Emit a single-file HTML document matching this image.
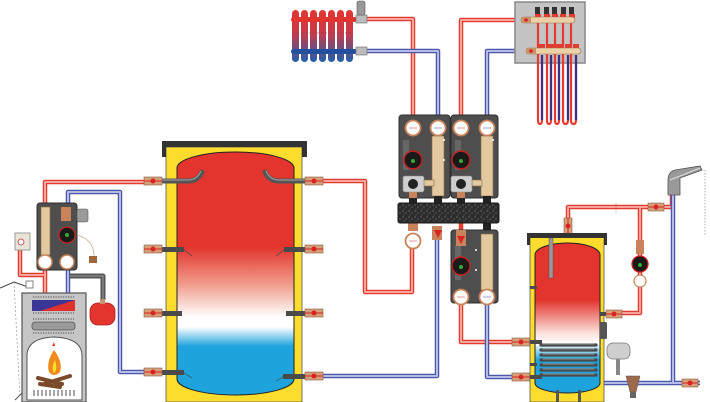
<!DOCTYPE html>
<html><head><meta charset="utf-8"><style>
html,body{margin:0;padding:0;background:#fff;}
svg{display:block;}
</style></head><body>
<svg width="710" height="402" viewBox="0 0 710 402" xmlns="http://www.w3.org/2000/svg">
<defs>
<linearGradient id="buf" x1="0" y1="152" x2="0" y2="395" gradientUnits="userSpaceOnUse">
<stop offset="0" stop-color="#e3342d"/><stop offset="0.39" stop-color="#e3342d"/>
<stop offset="0.55" stop-color="#f0a090"/><stop offset="0.68" stop-color="#fff"/>
<stop offset="0.72" stop-color="#fff"/><stop offset="0.8" stop-color="#1ea3dc"/>
<stop offset="1" stop-color="#1ea3dc"/></linearGradient>
<linearGradient id="dhw" x1="0" y1="243" x2="0" y2="393" gradientUnits="userSpaceOnUse">
<stop offset="0" stop-color="#e3342d"/><stop offset="0.38" stop-color="#e3342d"/>
<stop offset="0.6" stop-color="#fbe0da"/><stop offset="0.67" stop-color="#fff"/>
<stop offset="0.78" stop-color="#1ea3dc"/><stop offset="1" stop-color="#1ea3dc"/></linearGradient>
<linearGradient id="rad" x1="0" y1="10" x2="0" y2="62" gradientUnits="userSpaceOnUse">
<stop offset="0" stop-color="#e2352f"/><stop offset="0.45" stop-color="#c83a4a"/><stop offset="1" stop-color="#1f5fae"/></linearGradient>
<pattern id="spk" width="6" height="6" patternUnits="userSpaceOnUse">
<rect width="6" height="6" fill="#2c2c2c"/><circle cx="1" cy="1" r="0.6" fill="#888"/><circle cx="4" cy="3" r="0.5" fill="#aaa"/><circle cx="2" cy="5" r="0.5" fill="#777"/></pattern>
</defs>

<!-- ============ PIPES ============ -->
<g fill="none" stroke-linejoin="round" stroke-linecap="butt">
<g stroke="#e53a2f" stroke-width="4.5">
<path d="M45,293 V182 H148"/>
<path d="M20,250 V275 H45"/>
<path d="M323,181 H365 V292 H412 V248"/>
<path d="M413,115 V19 H367"/>
<path d="M461,115 V20 H521"/>
<path d="M461,223 V232"/>
<path d="M461,303 V342 H530"/>
<path d="M568,235 V207 H672 V195"/>
<path d="M640,207 V313 H607"/>
</g>
<g stroke="#f7a59a" stroke-width="2">
<path d="M45,293 V182 H148"/>
<path d="M20,250 V275 H45"/>
<path d="M323,181 H365 V292 H412 V248"/>
<path d="M413,115 V19 H367"/>
<path d="M461,115 V20 H521"/>
<path d="M461,303 V342 H530"/>
<path d="M568,235 V207 H672 V195"/>
<path d="M640,207 V313 H607"/>
</g>
<g stroke="#4d57a8" stroke-width="4.5">
<path d="M68,293 V192 H120 V372 H148"/>
<path d="M323,376 H437 V240"/>
<path d="M438,115 V51 H367"/>
<path d="M487,115 V51 H526"/>
<path d="M487,303 V377 H530"/>
<path d="M600,383 H700"/>
<path d="M673,195 V383"/>
</g>
<g stroke="#b4bbe6" stroke-width="2">
<path d="M68,293 V192 H120 V372 H148"/>
<path d="M323,376 H437 V240"/>
<path d="M438,115 V51 H367"/>
<path d="M487,115 V51 H526"/>
<path d="M487,303 V377 H530"/>
<path d="M600,383 H700"/>
<path d="M673,195 V383"/>
</g>
<path d="M70,276 H103 V300" stroke="#555" stroke-width="5"/>
<path d="M70,276 H103 V300" stroke="#888" stroke-width="1.5"/>
</g>

<!-- chimney line -->
<path d="M0,288 L14,282 L28,287" fill="none" stroke="#444" stroke-width="1"/>
<path d="M14,282 L20,398" fill="none" stroke="#999" stroke-width="0.7" stroke-dasharray="2,2"/>
<rect x="26" y="281" width="7" height="7" fill="#fff" stroke="#666" stroke-width="0.8"/>
<path d="M22,393 L15,400" stroke="#555" stroke-width="1"/>

<!-- ============ BOILER ============ -->
<rect x="22" y="293" width="64" height="109" fill="#c6c6c6" stroke="#555" stroke-width="1.2"/>
<g stroke="#444" stroke-width="1">
<path d="M33,297 H74 M33,313 H74 M33,319 H74 M33,333 H74" stroke-dasharray="1.2,1.3"/>
</g>
<polygon points="32,300 75,300 75,311 32,311" fill="#3a3597"/>
<polygon points="40,311 75,300 75,311" fill="#e0312c"/>
<rect x="32" y="322" width="43" height="8" rx="3" fill="#9a9a9a" stroke="#555" stroke-width="0.8"/>
<path d="M27,400 V356 Q27,338 54,337 Q82,338 82,356 V400 Z" fill="#fff" stroke="#555" stroke-width="1"/>
<path d="M54,350 Q46,362 49,372 Q54,378 60,372 Q63,362 54,350 Z" fill="#f08a1c"/>
<path d="M55,360 Q51,368 54,373 Q58,370 55,360 Z" fill="#fde02e"/>
<path d="M52,346 l2,-4 l1,4 z" fill="#e3342d"/>
<g stroke="#7a4a2a" stroke-width="4" stroke-linecap="round">
<path d="M38,378 L62,384"/><path d="M44,384 L70,376"/><path d="M40,384 L60,387"/>
</g>
<g stroke="#888" stroke-width="1.5"><path d="M34,390 V396 M38,390 V396 M42,390 V396 M46,390 V396 M50,390 V396 M54,390 V396 M58,390 V396 M62,390 V396 M66,390 V396 M70,390 V396 M74,390 V396"/></g>

<!-- expansion vessel -->
<rect x="90" y="303" width="25" height="22" rx="8" fill="#e3342d" stroke="#a52520" stroke-width="0.8"/>
<rect x="100" y="299" width="5" height="5" fill="#c8926a"/>

<!-- gauge -->
<rect x="15" y="233" width="15" height="17" fill="#e8e4d8" stroke="#888" stroke-width="0.8"/>
<circle cx="21" cy="242" r="3" fill="#fff" stroke="#c33" stroke-width="0.8"/>

<!-- left mixing group -->
<rect x="37" y="203" width="40" height="67" rx="3" fill="#4e4e4e" stroke="#2e2e2e"/>
<rect x="41" y="207" width="9" height="48" fill="#e2c9a0" stroke="#8a6a40" stroke-width="0.6"/>
<rect x="61" y="207" width="10" height="14" fill="#c8835a"/>
<rect x="77" y="209" width="11" height="13" rx="2" fill="#9a9a9a" stroke="#555" stroke-width="0.6"/>
<circle cx="67" cy="235" r="8" fill="#1a1a1a" stroke="#c22" stroke-width="1.2"/>
<circle cx="67" cy="235" r="2" fill="#3a3"/>
<circle cx="45" cy="262" r="7" fill="#fff" stroke="#c8835a" stroke-width="1.4"/>
<circle cx="67" cy="262" r="7" fill="#fff" stroke="#c8835a" stroke-width="1.4"/>
<path d="M77,235 Q95,240 94,258" fill="none" stroke="#c8a888" stroke-width="0.7"/>
<rect x="89" y="256" width="8" height="7" fill="#a0683a"/>

<!-- ============ BUFFER TANK ============ -->
<rect x="185" y="383" width="102" height="19" fill="#b4b4b4" stroke="#444" stroke-width="1"/>
<rect x="166" y="147" width="136" height="255" fill="#fcdc2c" stroke="#555" stroke-width="0.8"/>
<path d="M162,141 H307 V157 H302 V147 H166 V157 H162 Z" fill="#333"/>
<path d="M177,168 A58.5,16 0 0 1 294,168 V379 A58.5,16 0 0 1 177,379 Z" fill="url(#buf)" stroke="#222" stroke-width="1"/>
<g fill="#4a4a4a">
<rect x="162" y="247" width="22" height="5"/><rect x="162" y="311" width="20" height="5"/><rect x="162" y="370" width="22" height="5"/>
<rect x="284" y="247" width="21" height="5"/><rect x="286" y="311" width="19" height="5"/><rect x="283" y="374" width="22" height="5"/>
</g>
<g fill="none" stroke="#555" stroke-width="5" stroke-linecap="round">
<path d="M162,181 H188 Q198,181 202,172"/><path d="M305,181 H279 Q269,181 265,172"/>
</g>
<g fill="none" stroke="#999" stroke-width="1.2">
<path d="M162,180 H188 Q197,180 201,171"/><path d="M305,180 H279 Q270,180 266,171"/>
</g>
<g stroke="#444" stroke-width="0.7"><path d="M184,250 L192,256 M284,250 L276,256 M184,373 L192,378 M283,377 L276,381"/></g>

<!-- valves -->
<g>
<g stroke="#8c5e3e" stroke-width="0.6" fill="#d3a07a">
<rect x="144" y="177" width="18" height="8"/><rect x="144" y="245" width="18" height="8"/><rect x="144" y="309" width="18" height="8"/><rect x="144" y="368" width="18" height="8"/>
<rect x="305" y="177" width="18" height="8"/><rect x="305" y="245" width="18" height="8"/><rect x="305" y="309" width="18" height="8"/><rect x="305" y="372" width="18" height="8"/>
<rect x="512" y="338" width="18" height="8"/><rect x="512" y="373" width="18" height="8"/><rect x="606" y="310" width="16" height="8"/>
<rect x="564" y="218" width="8" height="16"/><rect x="648" y="203" width="16" height="8"/><rect x="682" y="379" width="16" height="8"/>
</g>
<g stroke="#d22" stroke-width="1">
<path d="M144,181 H162 M144,249 H162 M144,313 H162 M144,372 H162 M305,181 H323 M305,249 H323 M305,313 H323 M305,376 H323 M512,342 H530 M512,377 H530 M606,314 H622 M568,218 V234 M648,207 H664 M682,383 H698"/>
</g>
<g fill="#d22">
<circle cx="153" cy="181" r="2.5"/><circle cx="153" cy="249" r="2.5"/><circle cx="153" cy="313" r="2.5"/><circle cx="153" cy="372" r="2.5"/>
<circle cx="314" cy="181" r="2.5"/><circle cx="314" cy="249" r="2.5"/><circle cx="314" cy="313" r="2.5"/><circle cx="314" cy="376" r="2.5"/>
<circle cx="521" cy="342" r="2.5"/><circle cx="521" cy="377" r="2.5"/><circle cx="614" cy="314" r="2.5"/><circle cx="568" cy="226" r="2.5"/><circle cx="656" cy="207" r="2.5"/><circle cx="690" cy="383" r="2.5"/>
</g>
</g>

<!-- ============ RADIATOR ============ -->
<g fill="url(#rad)">
<rect x="292" y="10" width="7" height="52" rx="3.5"/><rect x="301" y="10" width="7" height="52" rx="3.5"/><rect x="310" y="10" width="7" height="52" rx="3.5"/><rect x="319" y="10" width="7" height="52" rx="3.5"/><rect x="328" y="10" width="7" height="52" rx="3.5"/><rect x="337" y="10" width="7" height="52" rx="3.5"/><rect x="346" y="10" width="7" height="52" rx="3.5"/>
</g>
<rect x="291" y="17" width="66" height="5" rx="2.5" fill="#e2352f"/>
<rect x="291" y="49" width="66" height="5" rx="2.5" fill="#23509e"/>
<path d="M293,33 H352" stroke="#6a3a5a" stroke-width="0.6" stroke-dasharray="2,2"/>
<rect x="356" y="15" width="11" height="8" fill="#bbb" stroke="#666" stroke-width="0.6"/>
<rect x="357" y="1" width="8" height="14" rx="2" fill="#999" stroke="#555" stroke-width="0.6"/>
<rect x="356" y="47" width="11" height="8" fill="#bbb" stroke="#666" stroke-width="0.6"/>

<!-- ============ MANIFOLD ============ -->
<rect x="515" y="2" width="70" height="61" fill="#c4c4c4" stroke="#888" stroke-width="1.5"/>
<g fill="#333"><rect x="535" y="7" width="5" height="7"/><rect x="544" y="7" width="5" height="7"/><rect x="552" y="7" width="5" height="7"/><rect x="561" y="7" width="5" height="7"/><rect x="569" y="7" width="5" height="7"/></g>
<g fill="#e53a2f"><rect x="535" y="14" width="6" height="4"/><rect x="544" y="14" width="6" height="4"/><rect x="552" y="14" width="6" height="4"/><rect x="560" y="14" width="6" height="4"/><rect x="569" y="14" width="6" height="4"/>
<rect x="539" y="44" width="6" height="4"/><rect x="548" y="44" width="6" height="4"/><rect x="556" y="44" width="6" height="4"/><rect x="565" y="44" width="6" height="4"/><rect x="573" y="44" width="6" height="4"/></g>
<g fill="none" stroke-width="2.2">
<path d="M538,22 V120 Q538,124 540,124 Q542,124 542,120 V55" stroke="#e53a2f"/>
<path d="M547,22 V120 Q547,124 549,124 Q551,124 551,120 V55" stroke="#e53a2f"/>
<path d="M555,22 V120 Q555,124 557,124 Q559,124 559,120 V55" stroke="#e53a2f"/>
<path d="M563,22 V120 Q563,124 565.5,124 Q568,124 568,120 V55" stroke="#e53a2f"/>
<path d="M571,22 V120 Q571,124 573.5,124 Q576,124 576,120 V55" stroke="#e53a2f"/>
</g>
<g fill="none" stroke-width="2.2" stroke="#3c2f8a">
<path d="M542,55 V120"/><path d="M551,55 V120"/><path d="M559,55 V120"/><path d="M568,55 V120"/><path d="M576,55 V120"/>
</g>
<rect x="521" y="17" width="54" height="6" rx="3" fill="#ecd0a8" stroke="#9a7048" stroke-width="0.6"/>
<rect x="526" y="48" width="55" height="6" rx="3" fill="#ecd0a8" stroke="#9a7048" stroke-width="0.6"/>
<rect x="521" y="17" width="10" height="6" fill="#c8926a"/><circle cx="526" cy="20" r="1.8" fill="#d22"/>
<rect x="526" y="48" width="10" height="6" fill="#c8926a"/><circle cx="531" cy="51" r="1.8" fill="#d22"/>

<!-- ============ PUMP GROUPS ============ -->
<g>
<rect x="399" y="115" width="51" height="83" rx="3" fill="#4e4e4e" stroke="#2e2e2e"/>
<rect x="451" y="115" width="47" height="83" rx="3" fill="#4e4e4e" stroke="#2e2e2e"/>
<rect x="451" y="230" width="47" height="73" rx="3" fill="#4e4e4e" stroke="#2e2e2e"/>
<g fill="#666"><rect x="403" y="140" width="6" height="30"/><rect x="455" y="140" width="6" height="30"/><rect x="455" y="245" width="6" height="35"/></g>
<g fill="#e2c9a0" stroke="#8a6a40" stroke-width="0.6">
<rect x="432" y="136" width="12" height="60"/><rect x="481" y="136" width="12" height="60"/><rect x="481" y="234" width="12" height="56"/>
<rect x="424" y="180" width="10" height="6"/><rect x="472" y="180" width="10" height="6"/>
</g>
<g fill="#fff" stroke="#c8835a" stroke-width="1.8">
<circle cx="413" cy="128" r="7.5"/><circle cx="438" cy="128" r="7.5"/><circle cx="461" cy="128" r="7.5"/><circle cx="487" cy="128" r="7.5"/>
<circle cx="461" cy="297" r="7.5"/><circle cx="487" cy="297" r="7.5"/><circle cx="413" cy="241" r="7.5"/>
</g>
<g fill="none" stroke="#c33" stroke-width="0.6"><path d="M409,128 H417 M457,128 H465 M457,297 H465 M409,241 H417"/></g>
<g fill="none" stroke="#44a" stroke-width="0.6"><path d="M434,128 H442 M483,128 H491 M483,297 H491"/></g>
<g fill="#1a1a1a" stroke="#c22" stroke-width="1.4">
<circle cx="413" cy="160" r="9"/><circle cx="461" cy="160" r="9"/><circle cx="461" cy="266" r="9"/>
</g>
<g fill="#3a3"><circle cx="413" cy="161" r="2"/><circle cx="461" cy="161" r="2"/><circle cx="461" cy="267" r="2"/></g>
<g fill="#cfcfcf" stroke="#888" stroke-width="0.6"><rect x="403" y="176" width="21" height="16" rx="2"/><rect x="451" y="176" width="21" height="16" rx="2"/></g>
<g fill="#222"><circle cx="413" cy="184" r="5"/><circle cx="461" cy="184" r="5"/></g>
<g fill="#c8835a"><rect x="409" y="192" width="8" height="6"/><rect x="457" y="192" width="8" height="6"/><rect x="456" y="230" width="10" height="16"/><rect x="432" y="226" width="10" height="14"/><rect x="408" y="223" width="10" height="8"/></g>
<g fill="#222"><rect x="434" y="196" width="8" height="7"/><rect x="483" y="196" width="8" height="7"/><rect x="483" y="223" width="8" height="7"/><rect x="409" y="198" width="8" height="5"/><rect x="457" y="198" width="8" height="5"/></g>
<path d="M434,230 L442,230 L438,238 Z" fill="#d22"/>
<path d="M457,236 L465,236 L461,244 Z" fill="#d22"/>
<rect x="398" y="203" width="101" height="20" rx="2" fill="url(#spk)" stroke="#1a1a1a"/>
<g fill="#fff"><circle cx="444" cy="140" r="1"/><circle cx="444" cy="160" r="1"/><circle cx="493" cy="140" r="1"/><circle cx="476" cy="250" r="1"/><circle cx="476" cy="270" r="1"/></g>
</g>

<!-- ============ DHW TANK ============ -->
<rect x="530" y="237" width="74" height="165" fill="#fcdc2c" stroke="#555" stroke-width="0.8"/>
<path d="M527,233 H607 V245 H604 V238 H530 V245 H527 Z" fill="#333"/>
<path d="M535,255 A32.5,12 0 0 1 600,255 V383 A32.5,10 0 0 1 535,383 Z" fill="url(#dhw)" stroke="#222" stroke-width="1"/>
<rect x="549" y="238" width="4" height="40" fill="#999" stroke="#555" stroke-width="0.5"/>
<rect x="600" y="322" width="7" height="17" rx="1.5" fill="#555"/>
<g fill="#4a4a4a"><rect x="530" y="340" width="12" height="4"/><rect x="530" y="375" width="12" height="4"/><rect x="600" y="312" width="6" height="4"/><rect x="530" y="286" width="7" height="3"/><rect x="530" y="363" width="7" height="3"/></g>
<g fill="none" stroke-linecap="round">
<g stroke="#4a4a4a" stroke-width="3.2">
<path d="M541,345 H596 M541,350 H596 M541,355 H596 M541,360 H596 M541,365 H596 M541,370 H596 M541,375 H596"/>
</g>
<g stroke="#aaa" stroke-width="0.8">
<path d="M543,344 H594 M543,349 H594 M543,354 H594 M543,359 H594 M543,364 H594 M543,369 H594 M543,374 H594"/>
</g>
</g>
<rect x="556" y="390" width="3" height="12" fill="#555"/><rect x="578" y="390" width="3" height="12" fill="#555"/>

<!-- DHW circ pump -->
<rect x="636" y="240" width="8" height="14" fill="#c8835a"/>
<circle cx="640" cy="264" r="8" fill="#1a1a1a" stroke="#c22" stroke-width="1.3"/>
<circle cx="640" cy="265" r="2" fill="#3a3"/>
<circle cx="640" cy="281" r="6" fill="#fff" stroke="#c8835a" stroke-width="1.2"/>
<!-- small expansion vessel -->
<rect x="607" y="343" width="23" height="16" rx="6" fill="#cfcfcf" stroke="#777" stroke-width="0.8"/>
<rect x="616" y="359" width="4" height="16" fill="#888"/>
<path d="M626,376 H640 L636,392 H630 Z" fill="#9c6a4a" stroke="#555" stroke-width="0.5"/>
<rect x="630" y="392" width="6" height="6" fill="#666"/>
<!-- faucet -->
<path d="M668,195 V180 Q668,172 675,170 L700,166 L702,170 L680,178 V195 Z" fill="#999" stroke="#555" stroke-width="0.8"/>
<path d="M670,180 L700,168" stroke="#ddd" stroke-width="1.2"/>
<g stroke="#777" stroke-width="0.6" stroke-dasharray="1.5,1.5"><path d="M705,170 V235"/><path d="M616,203 V213"/></g>
</svg>
</body></html>
